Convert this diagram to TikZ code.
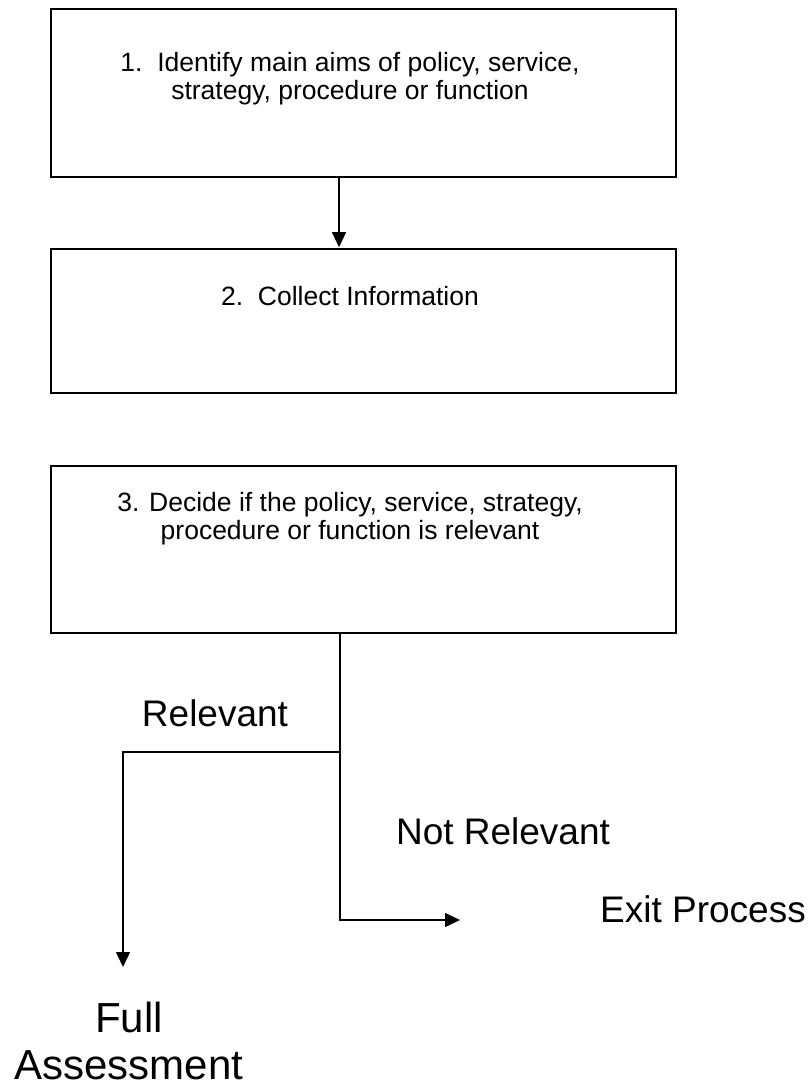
\documentclass[tikz,border=0pt]{standalone}
\usepackage{fontspec}
\setmainfont{Liberation Sans}
\usetikzlibrary{arrows.meta}

\begin{document}
\begin{tikzpicture}[x=1pt, y=-1pt,
    stepbox/.style={draw, line width=1.6pt, minimum width=625pt, inner sep=0pt},
    boxtext/.style={align=center, font=\fontsize{26.5}{28}\selectfont},
    branchlabel/.style={align=center, font=\fontsize{37}{44}\selectfont},
    flow/.style={line width=1.3pt, -{Triangle[length=15pt, width=14pt]}}]
\useasboundingbox (0,0) rectangle (810,1091);

% the three steps
\node[stepbox, minimum height=168pt] (aims) at (363.5,93) {};
\node[boxtext] (aimstext) at (350,79) {1.\ \ Identify main aims of policy, service,\\ strategy, procedure or function};

\node[stepbox, minimum height=144pt] (collect) at (363.5,321) {};
\node[boxtext] (collecttext) at (350,296) {2.\ \ Collect Information};

\node[stepbox, minimum height=167pt] (decide) at (363.5,549.5) {};
\node[boxtext] (decidetext) at (350,519) {3. Decide if the policy, service, strategy,\\ procedure or function is relevant};

\draw[flow, shorten >=1pt] ([xshift=-24.5pt]aims.south) -- ([xshift=-24.5pt]collect.north);

% relevant / not relevant split
\coordinate (fork) at (340,752);
\coordinate (exitend) at (460,920);
\coordinate (fullend) at (123,967);

\draw[flow] ([xshift=-23.5pt]decide.south) |- (exitend);
\draw[flow] (fork) -| (fullend);

\node[branchlabel] (relevant) at (215,713) {Relevant};
\node[branchlabel] (notrelevant) at (503,831) {Not Relevant};
\node[branchlabel] (exitprocess) at (703,909) {Exit Process};
\node[align=center, font=\fontsize{42}{47}\selectfont] (fullassess) at (129,1041) {Full\\ Assessment};

\end{tikzpicture}
\end{document}
